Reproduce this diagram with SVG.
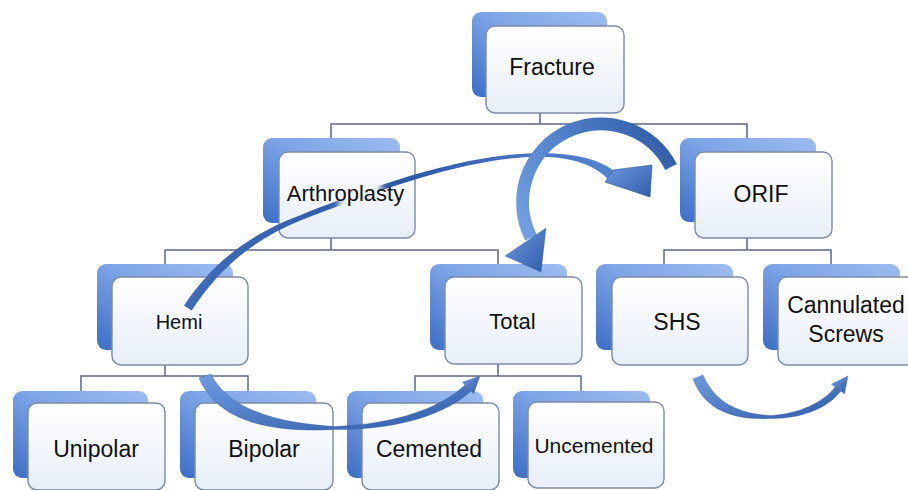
<svg xmlns="http://www.w3.org/2000/svg" width="908" height="490" viewBox="0 0 908 490">
<defs>
<linearGradient id="gBlue" x1="1" y1="0" x2="0" y2="1">
<stop offset="0" stop-color="#9dbcf0"/>
<stop offset="0.45" stop-color="#7ea5e6"/>
<stop offset="1" stop-color="#3b6ec6"/>
</linearGradient>
<linearGradient id="gWhite" x1="0" y1="0" x2="0" y2="1">
<stop offset="0" stop-color="#ffffff"/>
<stop offset="1" stop-color="#e7eef8"/>
</linearGradient>
<linearGradient id="gArrow" x1="0" y1="0" x2="1" y2="1">
<stop offset="0" stop-color="#6e9be0"/>
<stop offset="1" stop-color="#2f5ca8"/>
</linearGradient>
<linearGradient id="gArc" gradientUnits="userSpaceOnUse" x1="520" y1="240" x2="680" y2="140">
<stop offset="0" stop-color="#76a2e4"/>
<stop offset="0.5" stop-color="#4f7fc8"/>
<stop offset="1" stop-color="#2e5aa2"/>
</linearGradient>
<linearGradient id="gThin" gradientUnits="userSpaceOnUse" x1="180" y1="300" x2="650" y2="180">
<stop offset="0" stop-color="#3d6cb8"/>
<stop offset="0.5" stop-color="#2d5aa6"/>
<stop offset="1" stop-color="#5b8ad6"/>
</linearGradient>
<filter id="blur" x="-50%" y="-50%" width="200%" height="200%"><feGaussianBlur stdDeviation="3"/></filter>
<mask id="gap" maskUnits="userSpaceOnUse" x="0" y="0" width="908" height="490">
<rect width="908" height="490" fill="#fff"/>
<rect x="339" y="178" width="42" height="36" fill="#000" filter="url(#blur)"/>
</mask>
<style>
.back{fill:url(#gBlue);}
.front{fill:url(#gWhite);stroke:#7d8ba6;stroke-width:1.4;}
.lbl{font-family:"Liberation Sans",Arial,sans-serif;font-size:23px;fill:#111;text-anchor:middle;}
.conn{fill:none;stroke:#5b6a86;stroke-width:1.5;}
.arr{fill:url(#gArrow);stroke:#2c548f;stroke-width:0.6;stroke-opacity:0.6;}
</style>
</defs>
<rect width="908" height="490" fill="#fff"/>

<g id="connectors">
<path class="conn" d="M540,113V124M331,138V124H747V138"/>
<path class="conn" d="M331,238V250M165,264V250H498V264"/>
<path class="conn" d="M747,238V250M664,264V250H831V264"/>
<path class="conn" d="M165,365V376M81,391V376H248V391"/>
<path class="conn" d="M498,364V376M415,391V376H581V391"/>
</g>

<g id="fracture">
<rect class="back" x="472" y="12" width="135" height="85" rx="9"/>
<rect class="front" x="486" y="26" width="138" height="87" rx="9"/>
<text class="lbl" x="552" y="75">Fracture</text>
</g>
<g id="arthroplasty">
<rect class="back" x="263" y="138" width="137" height="85" rx="9"/>
<rect class="front" x="279" y="152" width="136" height="86" rx="9"/>
</g>
<g id="orif">
<rect class="back" x="680" y="138" width="136" height="84" rx="9"/>
<rect class="front" x="695" y="152" width="137" height="86" rx="9"/>
<text class="lbl" x="761" y="201.5">ORIF</text>
</g>
<g id="hemi">
<rect class="back" x="97" y="264" width="136" height="86" rx="9"/>
<rect class="front" x="112" y="277" width="136" height="88" rx="9"/>
<text class="lbl" x="179" y="329" style="font-size:20px">Hemi</text>
</g>
<g id="total">
<rect class="back" x="430" y="264" width="137" height="86" rx="9"/>
<rect class="front" x="445" y="277" width="137" height="87" rx="9"/>
<text class="lbl" x="512.5" y="329" style="font-size:22px">Total</text>
</g>
<g id="shs">
<rect class="back" x="596" y="264" width="137" height="86" rx="9"/>
<rect class="front" x="612" y="277" width="136" height="88" rx="9"/>
<text class="lbl" x="677" y="330">SHS</text>
</g>
<g id="cannulated">
<rect class="back" x="763" y="264" width="137" height="86" rx="9"/>
<rect class="front" x="778" y="277" width="137" height="88" rx="9"/>
<text class="lbl" x="846" y="313">Cannulated</text>
<text class="lbl" x="846" y="341.5">Screws</text>
</g>
<g id="unipolar">
<rect class="back" x="13" y="391" width="135" height="87" rx="9"/>
<rect class="front" x="28" y="403" width="137" height="87" rx="9"/>
<text class="lbl" x="96" y="456.5">Unipolar</text>
</g>
<g id="bipolar">
<rect class="back" x="180" y="391" width="136" height="87" rx="9"/>
<rect class="front" x="195" y="403" width="138" height="87" rx="9"/>
<text class="lbl" x="264" y="456.5">Bipolar</text>
</g>
<g id="cemented">
<rect class="back" x="347" y="391" width="136" height="87" rx="9"/>
<rect class="front" x="362" y="403" width="137" height="87" rx="9"/>
<text class="lbl" x="429" y="456.5">Cemented</text>
</g>
<g id="uncemented">
<rect class="back" x="513" y="391" width="137" height="87" rx="9"/>
<rect class="front" x="528" y="402" width="136" height="86" rx="9"/>
<text class="lbl" x="594" y="453" style="font-size:21px">Uncemented</text>
</g>

<g id="curved-arrows">
<g mask="url(#gap)">
<path fill="url(#gThin)" d="M184,305.5 C211,265 247,235 299,215.7 C359,192 460,153 540,153.3 C576,153 600,160 614,171 L609,180 C596,166 574,157 540,156.7 C461,157 362,197 301,220.3 C252,240 218,270 191.7,310.5 Z"/>
</g>
<polygon fill="url(#gArrow)" stroke="#2c548f" stroke-width="0.6" points="605,182 613,170 652,165 650,197"/>
<path d="M671,167 A78,78 0 1 0 531,237.6" fill="none" stroke="url(#gArc)" stroke-width="13"/>
<polygon class="arr" points="505,256 546,228 541,272"/>
<path class="arr" d="M211,374 C230,414 290,424 335,426.5 C398,424 442,407 465,385 L471,391 C447,413 401,430 335,429.5 C286,432 220,428 199,378 Z"/>
<polygon class="arr" points="462.5,382.2 480,376 473.5,393.8"/>
<path class="arr" d="M703,375 C716,406 744,414 770,415.5 C798,414 823,403 835.2,386.9 L840.8,391.1 C828,408 802,419 770,418.5 C740,420 706,414 693,379 Z"/>
<polygon class="arr" points="831.6,384.2 848,376 844.4,393.8"/>
</g>

<text class="lbl" x="345.5" y="201" style="font-size:22px">Arthroplasty</text>
</svg>
